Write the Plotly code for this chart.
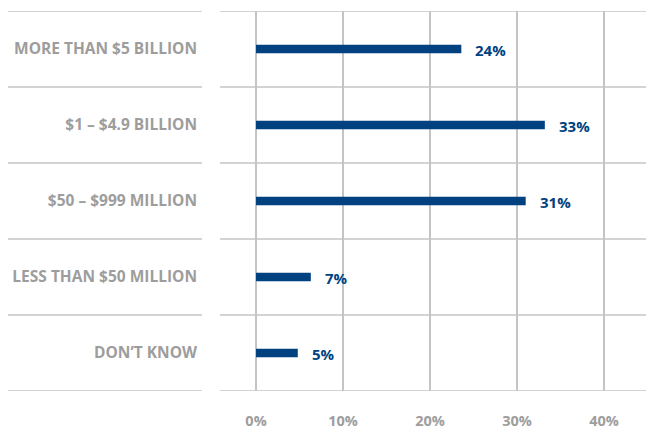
import plotly.graph_objects as go

categories = ["MORE THAN $5 BILLION", "$1 – $4.9 BILLION", "$50 – $999 MILLION",
              "LESS THAN $50 MILLION", "DON’T KNOW"]
values = [23.6, 33.2, 31.0, 6.3, 4.8]
value_labels = ["24%", "33%", "31%", "7%", "5%"]
tick_vals = [0, 10, 20, 30, 40]
tick_text = ["0%", "10%", "20%", "30%", "40%"]

BLUE = "#00427f"
GRAY_TEXT = "#9d9d9d"
GRID = "#c4c4c4"
FONT = "Open Sans"

fig = go.Figure()
fig.add_trace(go.Bar(
    x=values, y=categories, orientation="h",
    marker=dict(color=BLUE, line=dict(width=0)),
    width=0.11, hoverinfo="skip",
))

for c, v, t in zip(categories, values, value_labels):
    fig.add_annotation(x=v, y=c, text=t, showarrow=False, xanchor="left",
                       xshift=12, yshift=-1,
                       font=dict(family=FONT, size=15, color=BLUE, weight="bold"))

shapes = []
for i in range(len(categories) + 1):
    yv = i - 0.5
    shapes.append(dict(type="line", xref="x domain", yref="y", x0=0, x1=1, y0=yv, y1=yv,
                       line=dict(color=GRID, width=1.5), layer="below"))
    shapes.append(dict(type="line", xref="paper", yref="y", x0=-212/426, x1=-18/426,
                       y0=yv, y1=yv, line=dict(color=GRID, width=1.5), layer="below"))

fig.update_layout(
    width=646, height=429,
    margin=dict(l=220, r=0, t=11, b=38),
    paper_bgcolor="white", plot_bgcolor="white",
    showlegend=False,
    shapes=shapes,
    font=dict(family=FONT),
    xaxis=dict(range=[-4.14, 44.83], tickvals=tick_vals, ticktext=tick_text,
               showgrid=True, gridcolor=GRID, gridwidth=1.5,
               zeroline=True, zerolinecolor=GRID, zerolinewidth=1.5,
               showline=False, ticks="", ticklabelstandoff=19,
               tickfont=dict(family=FONT, size=14.5, color=GRAY_TEXT, weight="bold"),
               fixedrange=True),
    yaxis=dict(range=[4.5, -0.5], showgrid=False, zeroline=False, showline=False,
               ticks="", ticklabelstandoff=22,
               tickfont=dict(family=FONT, size=15.5, color=GRAY_TEXT, weight="bold"),
               fixedrange=True),
)

fig.write_html("out.html", config={"displayModeBar": False},
               post_script="document.body.style.margin='0';document.body.style.overflow='hidden';")
